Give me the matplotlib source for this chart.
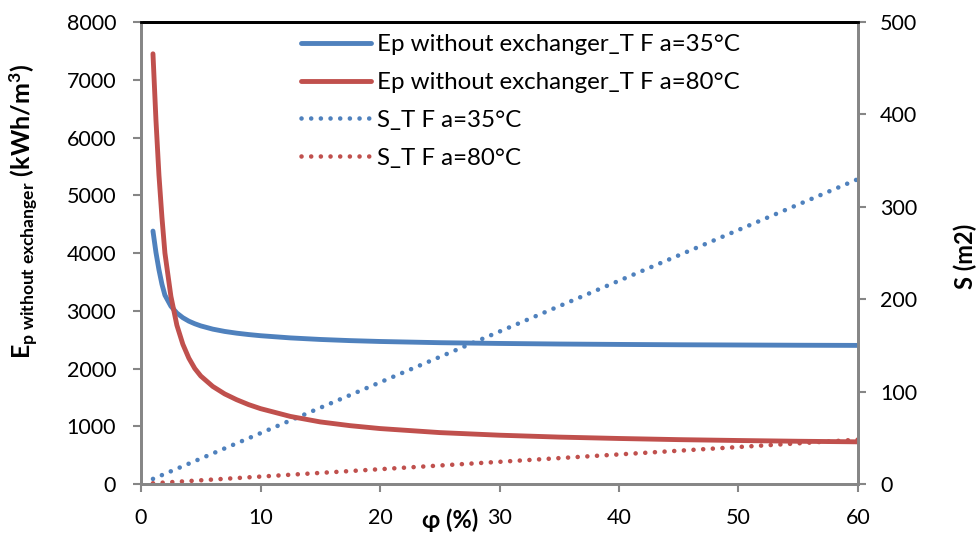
import matplotlib
matplotlib.use("Agg")
import matplotlib.pyplot as plt

# ---- data ----
phi = [1, 1.25, 1.5, 1.75, 2, 2.5, 3, 3.5, 4, 4.5, 5, 6, 7, 8, 9, 10,
       12.5, 15, 17.5, 20, 25, 30, 35, 40, 45, 50, 55, 60]
ep_35 = [4380, 4010, 3710, 3460, 3270, 3080, 2960, 2880, 2820, 2775, 2738, 2682, 2642, 2612, 2588, 2568,
         2530, 2503, 2483, 2468, 2447, 2434, 2424, 2417, 2411, 2407, 2403, 2400]
ep_80 = [7450, 6300, 5350, 4620, 4000, 3250, 2750, 2420, 2180, 2000, 1870, 1690, 1560, 1460, 1375, 1305,
         1170, 1075, 1010, 960, 890, 845, 812, 788, 768, 753, 740, 730]
phi_s = [1, 10, 20, 30, 40, 50, 60]
s_35 = [5.5, 55, 110, 165, 220, 275, 330]
s_80 = [0.8, 8.0, 16, 24, 32, 40, 48]

labels = ["Ep without exchanger_T F a=35°C", "Ep without exchanger_T F a=80°C",
          "S_T F a=35°C", "S_T F a=80°C"]
xticks = [0, 10, 20, 30, 40, 50, 60]
yticks_left = [0, 1000, 2000, 3000, 4000, 5000, 6000, 7000, 8000]
yticks_right = [0, 100, 200, 300, 400, 500]

BLUE = "#4F81BD"
RED = "#C0504D"
GREY = "#868686"
FONT = "Lato"

plt.rcParams["font.family"] = [FONT, "DejaVu Sans"]
plt.rcParams["mathtext.fontset"] = "custom"
plt.rcParams["mathtext.rm"] = FONT
plt.rcParams["mathtext.bf"] = FONT + ":bold"
plt.rcParams["mathtext.it"] = FONT + ":italic"

fig = plt.figure(figsize=(9.8, 5.38), dpi=100)
ax = fig.add_axes([0.1439, 0.1004, 0.7316, 0.8586])
ax2 = ax.twinx()

lw = 3.5
l1, = ax.plot(phi, ep_35, color=BLUE, lw=lw, solid_capstyle="round", solid_joinstyle="round")
l2, = ax.plot(phi, ep_80, color=RED, lw=lw, solid_capstyle="round", solid_joinstyle="round")
dot = (0, (0.01, 2.1))
l3, = ax2.plot(phi_s, s_35, color=BLUE, lw=3.3, linestyle=dot, dash_capstyle="round")
l4, = ax2.plot(phi_s, s_80, color=RED, lw=3.3, linestyle=dot, dash_capstyle="round")

ax.set_xlim(0, 60)
ax.set_ylim(0, 8000)
ax2.set_ylim(0, 500)
ax.set_xticks(xticks)
ax.set_yticks(yticks_left)
ax2.set_yticks(yticks_right)

fs = 15.5
for a in (ax, ax2):
    a.tick_params(axis="both", labelsize=fs, color=GREY, width=1.5, length=6,
                  direction="out")
    for side in ("left", "right", "bottom"):
        a.spines[side].set_color(GREY)
        a.spines[side].set_linewidth(2)
    a.spines["top"].set_color("black")
    a.spines["top"].set_linewidth(2)
ax.tick_params(axis="x", pad=11)
ax.tick_params(axis="y", pad=12)
ax2.tick_params(axis="y", pad=10)

fig.text(0.024, 0.606, r"$\mathbf{E_{p\ without\ exchanger}\ (kWh/m^3)}$", fontsize=18,
         rotation=90, ha="center", va="center")
fig.text(0.985, 0.524, "S (m2)", fontsize=17, fontweight="bold",
         rotation=90, ha="center", va="center")
fig.text(0.459, 0.018, "φ (%)", fontsize=17, fontweight="bold", ha="center", va="baseline")

leg = ax.legend([l1, l2, l3, l4], labels, loc="upper left",
                bbox_to_anchor=(0.223, 0.974), frameon=False, fontsize=17.4,
                handlelength=2.9, handletextpad=0.25, labelspacing=0.7,
                borderaxespad=0, borderpad=0)
ax.set_zorder(ax2.get_zorder() + 1)
ax.patch.set_visible(False)

fig.savefig("out.png", dpi=100)
